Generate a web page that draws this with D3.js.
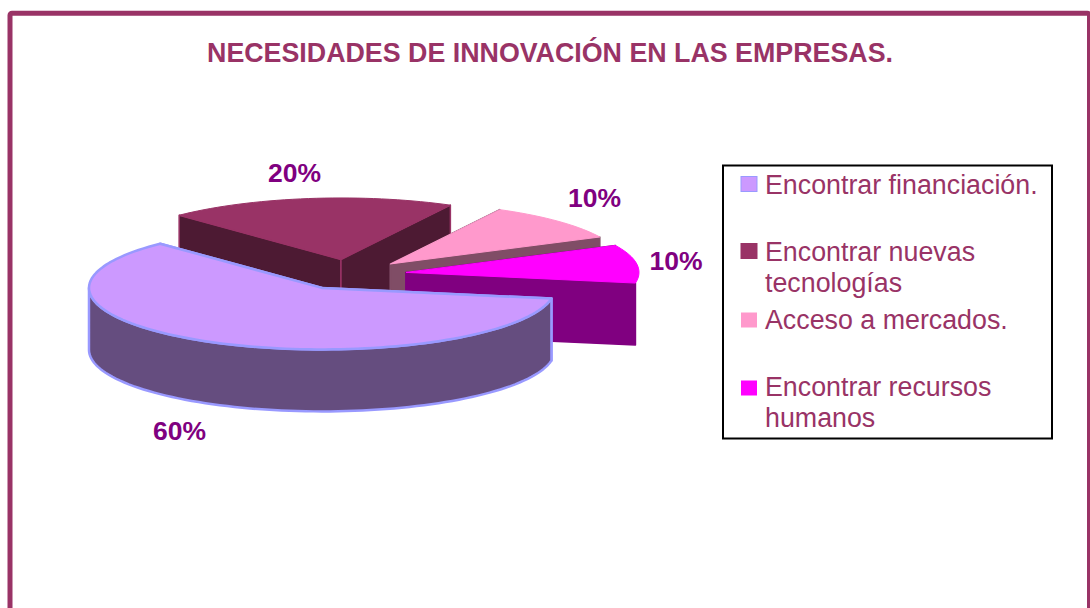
<!DOCTYPE html>
<html>
<head>
<meta charset="utf-8">
<script src="https://cdn.jsdelivr.net/npm/d3@7"></script>
<style>
  html, body { margin: 0; padding: 0; background: #fff; overflow: hidden; }
  svg { display: block; font-family: "Liberation Sans", Arial, sans-serif; }
</style>
</head>
<body>
<div id="chart"></div>
<script>
// Data
var titleText = "NECESIDADES DE INNOVACIÓN EN LAS EMPRESAS.";
var categories = [
  ["Encontrar financiación."],
  ["Encontrar nuevas", "tecnologías"],
  ["Acceso a mercados."],
  ["Encontrar recursos", "humanos"]
];
var values = [60, 20, 10, 10];

// Colours per slice
var topColors = ["#cc99ff", "#993366", "#ff99cc", "#ff00ff"];
var wallColors = ["#654d7f", "#4d1a33", "#804d66", "#800080"];
var edgeColors = ["#9999ff", "#993366", "#ff99cc", "#ff00ff"];
var wallEdgeColors = ["#9999ff", "#993366", "#804d66", "#800080"];

// Layout
var svgWidth = 1090;
var svgHeight = 608;
var center = { x: 349, y: 274.5 };
var radiusX = 233;
var radiusY = 61.5;
var depth = 62;
var explode = 0.247;
var labelSpots = [[179.5, 440], [294.5, 182], [594.5, 207], [676, 270]];
var swatchTops = [176, 243, 312, 380];
var lineBaselines = [[194], [261, 292], [329], [396, 427]];

var svg = d3.select("#chart")
  .append("svg")
  .attr("width", svgWidth)
  .attr("height", svgHeight);

// Frame
svg.append("rect")
  .attr("x", 10)
  .attr("y", 13.25)
  .attr("width", svgWidth - 10.5)
  .attr("height", svgHeight + 20)
  .attr("rx", 2)
  .attr("fill", "#fff")
  .attr("stroke", "#993366")
  .attr("stroke-width", 5);

// Title
svg.append("text")
  .attr("x", 550)
  .attr("y", 62)
  .attr("text-anchor", "middle")
  .attr("font-size", 26.8)
  .attr("font-weight", "bold")
  .attr("fill", "#993366")
  .text(titleText);

// Pie angles: clockwise from the top, the first slice starts at 100 degrees
var toRad = Math.PI / 180;
var pie = d3.pie()
  .sort(null)
  .startAngle(100 * toRad)
  .endAngle(460 * toRad);
var slices = pie(values);

var line = d3.line();

// Point on the tilted rim of a slice
function rimPoint(apex, angle, drop) {
  return [
    apex.x + radiusX * Math.sin(angle),
    apex.y - radiusY * Math.cos(angle) + (drop || 0)
  ];
}

function apexOf(d) {
  var mid = (d.startAngle + d.endAngle) / 2;
  return {
    x: center.x + explode * radiusX * Math.sin(mid),
    y: center.y - explode * radiusY * Math.cos(mid)
  };
}

function arcPoints(apex, a0, a1, drop) {
  var n = Math.max(2, Math.ceil((a1 - a0) / (2 * toRad)));
  return d3.range(n + 1).map(function(i) {
    return rimPoint(apex, a0 + (a1 - a0) * i / n, drop);
  });
}

// Draw back to front
var drawOrder = [1, 2, 3, 0];
var pieGroup = svg.append("g");

drawOrder.forEach(function(i) {
  var d = slices[i];
  var apex = apexOf(d);
  var g = pieGroup.append("g");
  var apexPt = [apex.x, apex.y];
  var apexLow = [apex.x, apex.y + depth];
  var wallStroke = i === 0 ? 2.5 : 1.5;

  // Cut faces
  [d.startAngle, d.endAngle].forEach(function(a) {
    g.append("path")
      .attr("d", line([apexPt, rimPoint(apex, a), rimPoint(apex, a, depth), apexLow]) + "Z")
      .attr("fill", wallColors[i])
      .attr("stroke", wallEdgeColors[i])
      .attr("stroke-width", wallStroke)
      .attr("stroke-linejoin", "round");
  });

  // Outer wall, front half of the rim only
  var from = Math.max(d.startAngle, 90 * toRad);
  var to = Math.min(d.endAngle, 270 * toRad);
  if (to > from) {
    var upper = arcPoints(apex, from, to, 0);
    var lower = arcPoints(apex, from, to, depth).reverse();
    g.append("path")
      .attr("d", line(upper.concat(lower)) + "Z")
      .attr("fill", wallColors[i])
      .attr("stroke", wallEdgeColors[i])
      .attr("stroke-width", wallStroke)
      .attr("stroke-linejoin", "round");
  }

  // Top face
  var rim = arcPoints(apex, d.startAngle, d.endAngle, 0);
  g.append("path")
    .attr("d", line([apexPt].concat(rim)) + "Z")
    .attr("fill", topColors[i])
    .attr("stroke", edgeColors[i])
    .attr("stroke-width", i === 0 ? 2.5 : 1)
    .attr("stroke-linejoin", "round");
});

// Percent labels
svg.selectAll(".pct")
  .data(slices)
  .enter()
  .append("text")
  .attr("class", "pct")
  .attr("x", function(d, i) { return labelSpots[i][0]; })
  .attr("y", function(d, i) { return labelSpots[i][1]; })
  .attr("text-anchor", "middle")
  .attr("font-size", 26.5)
  .attr("font-weight", "bold")
  .attr("fill", "#800080")
  .text(function(d) { return d.value + "%"; });

// Legend
var legend = svg.append("g");
legend.append("rect")
  .attr("x", 723)
  .attr("y", 165.5)
  .attr("width", 329)
  .attr("height", 273)
  .attr("fill", "#fff")
  .attr("stroke", "#000")
  .attr("stroke-width", 2);

categories.forEach(function(lines, i) {
  legend.append("rect")
    .attr("x", 741)
    .attr("y", swatchTops[i] + 0.5)
    .attr("width", 16)
    .attr("height", 15)
    .attr("fill", topColors[i])
    .attr("stroke", i < 2 ? edgeColors[i] : "none")
    .attr("stroke-width", 1);
  lines.forEach(function(t, j) {
    legend.append("text")
      .attr("x", 765)
      .attr("y", lineBaselines[i][j])
      .attr("font-size", 26.8)
      .attr("fill", "#993366")
      .text(t);
  });
});
</script>
</body>
</html>
